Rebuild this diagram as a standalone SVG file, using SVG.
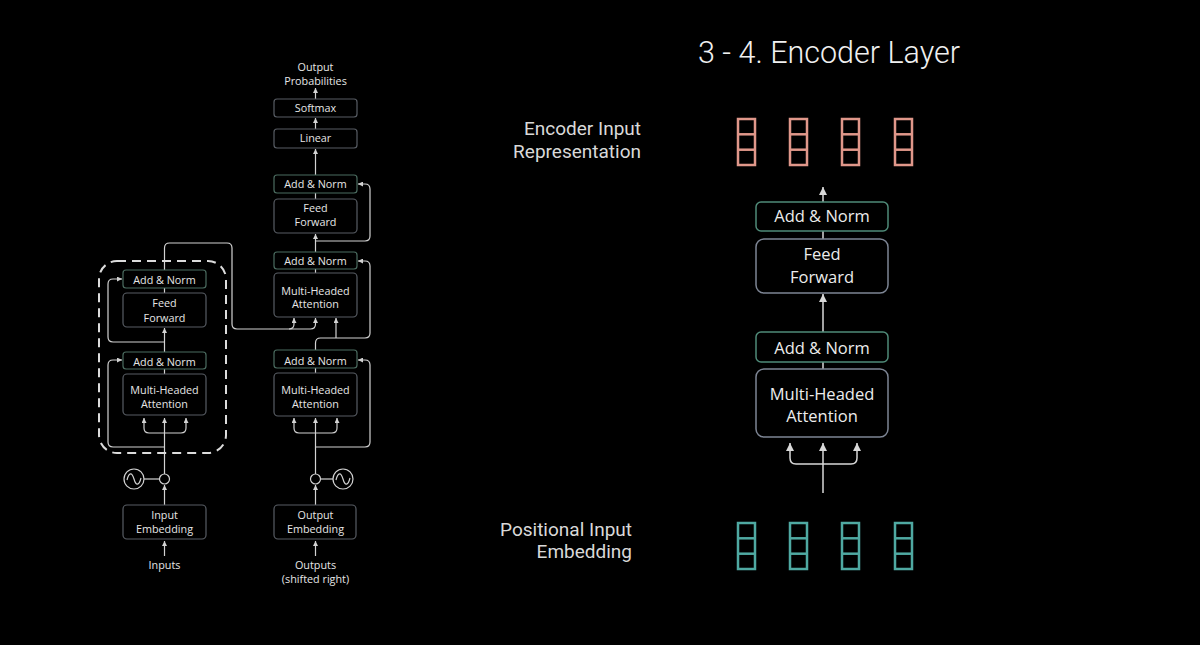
<svg xmlns="http://www.w3.org/2000/svg" width="1200" height="645" viewBox="0 0 1200 645">
<style>
.bg{fill:#000}
.lb{fill:#000;stroke:#585d64;stroke-width:1.2}
.lg{fill:#000;stroke:#4b6c60;stroke-width:1.2}
.lt{font-family:"Open Sans","Noto Sans",sans-serif;font-size:10.8px;fill:#e6e6e6;text-anchor:middle}
.ln{fill:none;stroke:#d2d2d2;stroke-width:1.2}
.rb{fill:#000;stroke:#7d8594;stroke-width:1.5}
.rg{fill:#000;stroke:#4f8a78;stroke-width:1.5}
.rt{font-family:"Open Sans","Noto Sans",sans-serif;font-size:16.5px;fill:#ececec;text-anchor:middle}
.rn{fill:none;stroke:#d8d8d8;stroke-width:1.5}
.lab{font-family:Roboto,"Liberation Sans",sans-serif;font-size:19px;fill:#d9d9d9;text-anchor:end}
.vr{fill:none;stroke:#e0978a;stroke-width:2.5}
.vt{fill:none;stroke:#4fa9a2;stroke-width:2.5}
</style>
<defs>
<marker id="a" viewBox="0 0 10 10" refX="10" refY="5" markerWidth="5" markerHeight="5" markerUnits="userSpaceOnUse" orient="auto"><path d="M0,0 L10,5 L0,10 z" fill="#d2d2d2"/></marker>
<marker id="b" viewBox="0 0 10 10" refX="10" refY="5" markerWidth="8" markerHeight="8" markerUnits="userSpaceOnUse" orient="auto"><path d="M0,0 L10,5 L0,10 z" fill="#d8d8d8"/></marker>
<g id="vcol">
<rect x="0" y="0" width="17" height="46"/>
<line x1="0" y1="15.3" x2="17" y2="15.3"/>
<line x1="0" y1="30.7" x2="17" y2="30.7"/>
</g>
</defs>
<rect class="bg" x="0" y="0" width="1200" height="645"/>

<!-- connectors -->
<g id="connectors">
<!-- decoder -->
<path class="ln" d="M315.5 99 V88" marker-end="url(#a)"/>
<path class="ln" d="M315.5 129 V118" marker-end="url(#a)"/>
<path class="ln" d="M315.5 175 V149" marker-end="url(#a)"/>
<path class="ln" d="M315.5 199 V193"/>
<path class="ln" d="M315.5 252 V234" marker-end="url(#a)"/>
<path class="ln" d="M315.5 241 H365 Q370 241 370 236 V189 Q370 184 365 184 H358" marker-end="url(#a)"/>
<path class="ln" d="M315.5 273 V269"/>
<path class="ln" d="M164.5 270 V248 Q164.5 243 169.5 243 H227 Q232 243 232 248 V324 Q232 329 237 329 H310.5 Q315.5 329 315.5 324 V318" marker-end="url(#a)"/>
<path class="ln" d="M289 329 Q294 329 294 324 V318" marker-end="url(#a)"/>
<path class="ln" d="M315.5 350 V343 Q315.5 338 320.5 338 H365 Q370 338 370 333 V266 Q370 261 365 261 H358" marker-end="url(#a)"/>
<path class="ln" d="M336 338 V318" marker-end="url(#a)"/>
<path class="ln" d="M315.5 373 V368"/>
<path class="ln" d="M315.5 474 V418" marker-end="url(#a)"/>
<path class="ln" d="M315.5 433 H299 Q294 433 294 428 V418" marker-end="url(#a)"/>
<path class="ln" d="M315.5 433 H332 Q337 433 337 428 V418" marker-end="url(#a)"/>
<path class="ln" d="M315.5 447 H365 Q370 447 370 442 V365 Q370 360 365 360 H358" marker-end="url(#a)"/>
<path class="ln" d="M320.5 479 H333"/>
<path class="ln" d="M315.5 505 V485" marker-end="url(#a)"/>
<path class="ln" d="M315.5 556 V541" marker-end="url(#a)"/>
<!-- encoder -->
<path class="ln" d="M164.5 293 V288"/>
<path class="ln" d="M164.5 352 V328" marker-end="url(#a)"/>
<path class="ln" d="M164.5 342 H113 Q108 342 108 337 V284 Q108 279 113 279 H122" marker-end="url(#a)"/>
<path class="ln" d="M164.5 374 V369"/>
<path class="ln" d="M164.5 474 V418" marker-end="url(#a)"/>
<path class="ln" d="M164.5 433 H149 Q144 433 144 428 V418" marker-end="url(#a)"/>
<path class="ln" d="M164.5 433 H181 Q186 433 186 428 V418" marker-end="url(#a)"/>
<path class="ln" d="M164.5 447 H113 Q108 447 108 442 V365 Q108 360 113 360 H122" marker-end="url(#a)"/>
<path class="ln" d="M144 479 H159.5"/>
<path class="ln" d="M164.5 505 V485" marker-end="url(#a)"/>
<path class="ln" d="M164.5 556 V541" marker-end="url(#a)"/>
<!-- right -->
<path class="rn" d="M823 202 V187" marker-end="url(#b)"/>
<path class="rn" d="M823 231 V239"/>
<path class="rn" d="M823 332 V294" marker-end="url(#b)"/>
<path class="rn" d="M823 362 V369"/>
<path class="rn" d="M823 493 V443" marker-end="url(#b)"/>
<path class="rn" d="M823 464 H796 Q790 464 790 458 V443" marker-end="url(#b)"/>
<path class="rn" d="M823 464 H851 Q857 464 857 458 V443" marker-end="url(#b)"/>
</g>

<!-- encoder block outline -->
<rect id="encoder-frame" x="99" y="261" width="127" height="192" rx="18" fill="none" stroke="#dcdcdc" stroke-width="2" stroke-dasharray="9 6"/>

<!-- left diagram nodes -->
<g id="out-prob"><text class="lt" x="315.5" y="71">Output</text><text class="lt" x="315.5" y="85">Probabilities</text></g>
<g id="softmax"><rect class="lb" x="274" y="99" width="83" height="18" rx="3"/><text class="lt" x="315.5" y="112">Softmax</text></g>
<g id="linear"><rect class="lb" x="274" y="129" width="83" height="19" rx="3"/><text class="lt" x="315.5" y="142">Linear</text></g>
<g id="dec-addnorm3"><rect class="lg" x="274" y="175" width="83" height="18" rx="3"/><text class="lt" x="315.5" y="188">Add &amp; Norm</text></g>
<g id="dec-ff"><rect class="lb" x="274" y="199" width="83" height="34" rx="4"/><text class="lt" x="315.5" y="212">Feed</text><text class="lt" x="315.5" y="226">Forward</text></g>
<g id="dec-addnorm2"><rect class="lg" x="274" y="252" width="83" height="17" rx="3"/><text class="lt" x="315.5" y="265">Add &amp; Norm</text></g>
<g id="dec-mha2"><rect class="lb" x="274" y="273" width="83" height="44" rx="4"/><text class="lt" x="315.5" y="295">Multi-Headed</text><text class="lt" x="315.5" y="308">Attention</text></g>
<g id="dec-addnorm1"><rect class="lg" x="274" y="350" width="83" height="18" rx="3"/><text class="lt" x="315.5" y="365">Add &amp; Norm</text></g>
<g id="dec-mha1"><rect class="lb" x="274" y="373" width="83" height="43" rx="4"/><text class="lt" x="315.5" y="394">Multi-Headed</text><text class="lt" x="315.5" y="408">Attention</text></g>
<g id="dec-posenc"><circle cx="315.5" cy="479" r="5" fill="none" stroke="#d2d2d2" stroke-width="1.2"/><circle cx="343" cy="479" r="10" fill="none" stroke="#d2d2d2" stroke-width="1.2"/><path d="M336 480 C338 472 341 472 343 479 S348 486 350 478" fill="none" stroke="#d2d2d2" stroke-width="1.2"/></g>
<g id="out-emb"><rect class="lb" x="274" y="505" width="82" height="34" rx="4"/><text class="lt" x="315.5" y="519">Output</text><text class="lt" x="315.5" y="533">Embedding</text></g>
<g id="outputs"><text class="lt" x="315.5" y="569">Outputs</text><text class="lt" x="315.5" y="583">(shifted right)</text></g>

<g id="enc-addnorm2"><rect class="lg" x="123" y="270" width="83" height="18" rx="3"/><text class="lt" x="164.5" y="284">Add &amp; Norm</text></g>
<g id="enc-ff"><rect class="lb" x="123" y="293" width="83" height="34" rx="4"/><text class="lt" x="164.5" y="307">Feed</text><text class="lt" x="164.5" y="322">Forward</text></g>
<g id="enc-addnorm1"><rect class="lg" x="123" y="352" width="83" height="17" rx="3"/><text class="lt" x="164.5" y="366">Add &amp; Norm</text></g>
<g id="enc-mha"><rect class="lb" x="123" y="374" width="83" height="41" rx="4"/><text class="lt" x="164.5" y="394">Multi-Headed</text><text class="lt" x="164.5" y="408">Attention</text></g>
<g id="enc-posenc"><circle cx="164.5" cy="479" r="5" fill="none" stroke="#d2d2d2" stroke-width="1.2"/><circle cx="134" cy="479" r="10" fill="none" stroke="#d2d2d2" stroke-width="1.2"/><path d="M127 480 C129 472 132 472 134 479 S139 486 141 478" fill="none" stroke="#d2d2d2" stroke-width="1.2"/></g>
<g id="in-emb"><rect class="lb" x="123" y="505" width="83" height="34" rx="4"/><text class="lt" x="164.5" y="519">Input</text><text class="lt" x="164.5" y="533">Embedding</text></g>
<g id="inputs"><text class="lt" x="164.5" y="569">Inputs</text></g>

<!-- right diagram -->
<g id="title"><text x="698" y="63" font-family="Roboto,'Liberation Sans',sans-serif" font-size="30.5" font-weight="300" fill="#f0f0f0">3 - 4. Encoder Layer</text></g>
<g id="enc-input-label"><text class="lab" x="641" y="135">Encoder Input</text><text class="lab" x="641" y="158">Representation</text></g>
<g id="enc-input-vectors" class="vr">
<use href="#vcol" x="738" y="119"/><use href="#vcol" x="790" y="119"/><use href="#vcol" x="842" y="119"/><use href="#vcol" x="895" y="119"/>
</g>
<g id="r-addnorm2"><rect class="rg" x="756" y="202" width="132" height="29" rx="5"/><text class="rt" x="822" y="222">Add &amp; Norm</text></g>
<g id="r-ff"><rect class="rb" x="756" y="239" width="132" height="54" rx="8"/><text class="rt" x="822" y="260">Feed</text><text class="rt" x="822" y="283">Forward</text></g>
<g id="r-addnorm1"><rect class="rg" x="756" y="332" width="132" height="30" rx="5"/><text class="rt" x="822" y="354">Add &amp; Norm</text></g>
<g id="r-mha"><rect class="rb" x="756" y="369" width="132" height="68" rx="8"/><text class="rt" x="822" y="400">Multi-Headed</text><text class="rt" x="822" y="422">Attention</text></g>
<g id="pos-label"><text class="lab" x="632" y="536">Positional Input</text><text class="lab" x="632" y="558">Embedding</text></g>
<g id="pos-vectors" class="vt">
<use href="#vcol" x="738" y="523"/><use href="#vcol" x="790" y="523"/><use href="#vcol" x="842" y="523"/><use href="#vcol" x="895" y="523"/>
</g>
</svg>
